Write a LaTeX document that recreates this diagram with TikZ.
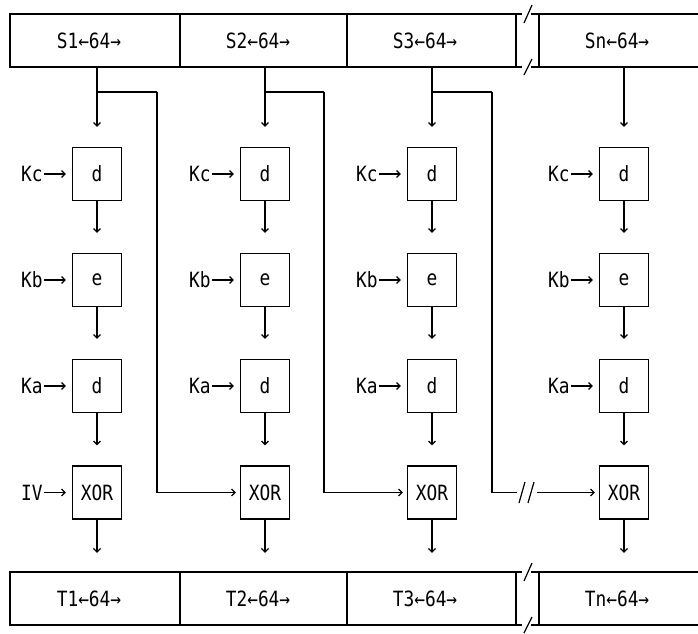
\documentclass[tikz,border=0pt]{standalone}
\usepackage{fontspec}
\newfontfamily\asciifont[FakeStretch=0.85]{DejaVu Sans Mono}
\usepackage{tikz}
\usetikzlibrary{arrows.meta, calc}
\tikzset{
  % block of a message row (text only, frame drawn apart)
  cell/.style={minimum height=53pt, inner sep=0pt,
               font=\asciifont\fontsize{21}{23}\selectfont},
  % one step box
  stepbox/.style={draw, line width=1.2pt, minimum width=49pt,
                  minimum height=53pt, inner sep=0pt,
                  font=\asciifont\fontsize{21}{23}\selectfont},
  % key name left of a box
  keylabel/.style={anchor=east, inner sep=1pt,
                   font=\asciifont\fontsize{21}{23}\selectfont},
  flow/.style={-{Straight Barb[length=3.5pt,width=7pt]}, line width=1.2pt},
  frame/.style={line width=1.2pt},
}

\begin{document}
\begin{tikzpicture}[x=1pt,y=-1pt]
  \useasboundingbox (0,0) rectangle (698,633);

  % frames of the two rows of blocks
  \foreach \yt/\yb in {14/67,572/625}{
    \draw[frame] (522,\yt) -- (10,\yt) -- (10,\yb) -- (522,\yb);
    \draw[frame] (531,\yt) -- (698,\yt) (531,\yb) -- (698,\yb);
    \foreach \xv in {180,347,516,539}
      \draw[frame] (\xv,\yt) -- (\xv,\yb);
    \draw[frame] (524,\yt+9) -- (532,\yt-9) (524,\yb+8) -- (532,\yb-8);
  }

  % block texts
  \foreach \c/\xt/\n in {1/89/1,2/258/2,3/425/3,4/617/n}{
    \node[cell] (s\c) at (\xt,40.5) {S\n←64→};
    \node[cell] (t\c) at (\xt,598.5) {T\n←64→};
  }

  % one column per block
  \foreach \c/\x in {1/97,2/265,3/432,4/624}{
    \node[stepbox] (kc\c) at (\x,174) {d};
    \node[stepbox] (kb\c) at (\x,280) {e};
    \node[stepbox] (ka\c) at (\x,386) {d};
    \node[stepbox] (xr\c) at (\x,492.5) {XOR};
    \node[keylabel] (lc\c) at ([xshift=-28pt]kc\c.west) {Kc};
    \node[keylabel] (lb\c) at ([xshift=-28pt]kb\c.west) {Kb};
    \node[keylabel] (la\c) at ([xshift=-28pt]ka\c.west) {Ka};
    \draw[flow, shorten >=6pt] (lc\c.east) -- (kc\c.west);
    \draw[flow, shorten >=6pt] (lb\c.east) -- (kb\c.west);
    \draw[flow, shorten >=6pt] (la\c.east) -- (ka\c.west);
    \draw[flow, shorten >=20pt] (s\c.south -| kc\c.north) -- (kc\c.north);
    \draw[flow, shorten >=20pt] (kc\c.south) -- (kb\c.north);
    \draw[flow, shorten >=20pt] (kb\c.south) -- (ka\c.north);
    \draw[flow, shorten >=20pt] (ka\c.south) -- (xr\c.north);
    \draw[flow, shorten >=19pt] (xr\c.south) -- (xr\c.south |- t\c.north);
  }

  \node[keylabel] (iv) at ([xshift=-28pt]xr1.west) {IV};
  \draw[flow, shorten >=6pt] (iv.east) -- (xr1.west);

  % chaining: each input block also feeds the next XOR
  \coordinate (br1) at (157,92);
  \coordinate (br2) at (324,92);
  \coordinate (br3) at (492,92);
  \draw[frame] (br1 -| kc1) -- (br1);
  \draw[flow, shorten >=4pt] (br1) |- (xr2.west);
  \draw[frame] (br2 -| kc2) -- (br2);
  \draw[flow, shorten >=4pt] (br2) |- (xr3.west);
  \draw[frame] (br3 -| kc3) -- (br3);
  \coordinate (gl) at (517,492.5);
  \coordinate (gr) at (537,492.5);
  \draw[frame] (br3) |- (gl);
  \draw[frame] (519,503) -- (525,482) (528,503) -- (534,482);
  \draw[flow, shorten >=4pt] (gr) -- (xr4.west);
\end{tikzpicture}
\end{document}
